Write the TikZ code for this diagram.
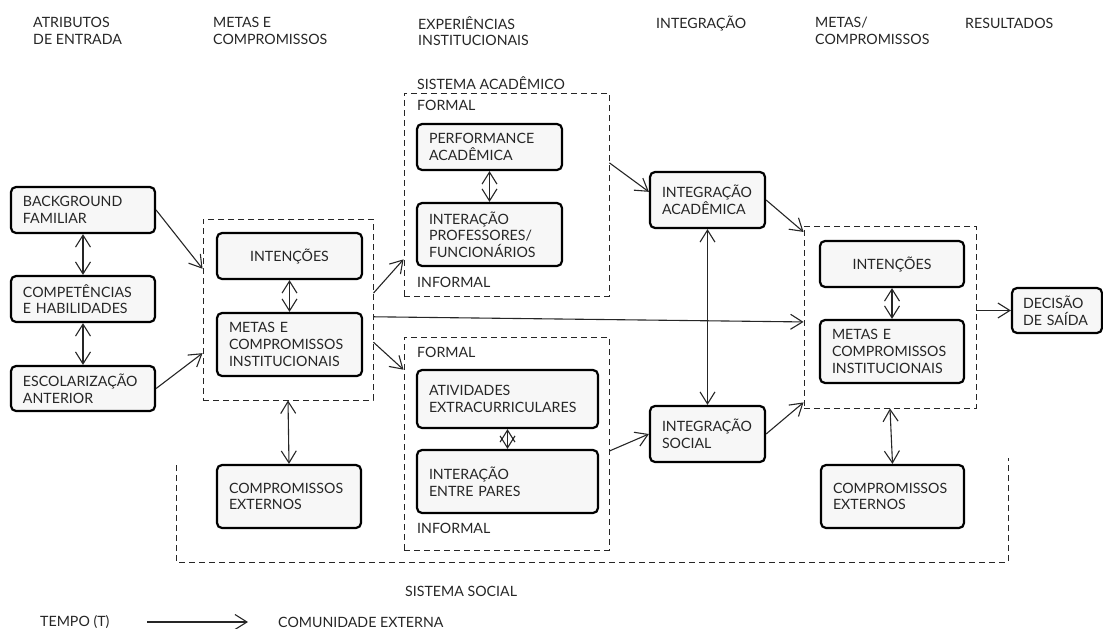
\documentclass[tikz,border=0pt]{standalone}
\usepackage{fontspec}
\setmainfont{Lato}
\usetikzlibrary{arrows.meta,calc}

\begin{document}
\begin{tikzpicture}[
    x=1pt, y=-1pt,
    font=\fontsize{14.2}{16.7}\selectfont,
    text=black!85,
    caixa/.style={rectangle, draw=black, fill=black!3, rounded corners=5pt, line width=2.2pt, align=left, inner xsep=12pt, inner ysep=0pt},
    grupo/.style={rectangle, draw=black!85, line width=0.9pt, dash pattern=on 6pt off 4pt, inner sep=0pt},
    rotulo/.style={align=left, anchor=west, inner sep=0pt},
    seta/.style={-{Straight Barb[length=12pt,width=15pt]}, line width=1.1pt, draw=black!85},
    setadupla/.style={{Straight Barb[length=12pt,width=15pt]}-{Straight Barb[length=12pt,width=15pt]}, line width=1.1pt, draw=black!85}
]
\useasboundingbox (0,0) rectangle (1103,629);

\node (h1) [rotulo] at (33,31) {ATRIBUTOS\\DE ENTRADA};
\node (h2) [rotulo] at (213,31) {METAS E\\COMPROMISSOS};
\node (h3) [rotulo] at (418,31) {EXPERIÊNCIAS\\INSTITUCIONAIS};
\node (h4) [rotulo] at (656,23) {INTEGRAÇÃO};
\node (h5) [rotulo] at (815,31) {METAS/\\COMPROMISSOS};
\node (h6) [rotulo] at (965,23) {RESULTADOS};

\node (grupo1) [grupo, minimum width=170pt, minimum height=181pt] at (288,309.5) {};
\node (acad) [grupo, minimum width=205pt, minimum height=203pt] at (506.5,194.5) {};
\node (social) [grupo, minimum width=205pt, minimum height=213pt] at (506.5,443.5) {};
\node (grupo2) [grupo, minimum width=172pt, minimum height=182pt] at (890,317) {};
\draw[grupo] (176,465) -- (176,562) -- (1008,562) -- (1008,458);

\node (lacad) [rotulo] at (417,83) {SISTEMA ACADÊMICO};
\node (formal1) [rotulo] at (417,105) {FORMAL};
\node (informal1) [rotulo] at (417,282) {INFORMAL};
\node (formal2) [rotulo] at (417,352) {FORMAL};
\node (informal2) [rotulo] at (417,528) {INFORMAL};
\node (lsocial) [rotulo] at (405,591) {SISTEMA SOCIAL};

\node (bg) [caixa, text width=120pt, minimum height=46pt] at (83,210) {BACKGROUND\\FAMILIAR};
\node (comp) [caixa, text width=120pt, minimum height=46pt] at (83,299) {COMPETÊNCIAS\\E HABILIDADES};
\node (esc) [caixa, text width=120pt, minimum height=45pt] at (83,388.5) {ESCOLARIZAÇÃO\\ANTERIOR};
\node (int1) [caixa, text width=121pt, minimum height=46pt, align=center] at (289.5,256) {INTENÇÕES};
\node (metas1) [caixa, text width=121pt, minimum height=63pt] at (289.5,344.5) {METAS E\\COMPROMISSOS\\INSTITUCIONAIS};
\node (ce1) [caixa, text width=120pt, minimum height=63pt] at (289,496.5) {COMPROMISSOS\\EXTERNOS};
\node (perf) [caixa, text width=121pt, minimum height=46pt] at (489.5,147) {PERFORMANCE\\ACADÊMICA};
\node (intprof) [caixa, text width=121pt, minimum height=63pt] at (489.5,234.5) {INTERAÇÃO\\PROFESSORES/\\FUNCIONÁRIOS};
\node (ativ) [caixa, text width=157pt, minimum height=58pt] at (507.5,399) {ATIVIDADES\\EXTRACURRICULARES};
\node (pares) [caixa, text width=157pt, minimum height=63pt] at (507.5,481.5) {INTERAÇÃO\\ENTRE PARES};
\node (ia) [caixa, text width=91pt, minimum height=56pt] at (707.5,200) {INTEGRAÇÃO\\ACADÊMICA};
\node (is) [caixa, text width=91pt, minimum height=56pt] at (707.5,434) {INTEGRAÇÃO\\SOCIAL};
\node (int2) [caixa, text width=120pt, minimum height=46pt, align=center] at (892,264) {INTENÇÕES};
\node (metas2) [caixa, text width=120pt, minimum height=63pt] at (892,351.5) {METAS E\\COMPROMISSOS\\INSTITUCIONAIS};
\node (ce2) [caixa, text width=119pt, minimum height=63pt] at (892.5,496.5) {COMPROMISSOS\\EXTERNOS};
\node (dec) [caixa, text width=68pt, minimum height=45pt, inner xsep=11pt] at (1057,310.5) {DECISÃO\\DE SAÍDA};

\node (tempo) [rotulo] at (40,622) {TEMPO (T)};
\node (comunidade) [rotulo] at (278,622) {COMUNIDADE EXTERNA};
\coordinate (t0) at (147,622);
\coordinate (t1) at (248,622);

\draw[setadupla] (bg) -- (comp);
\draw[setadupla] (comp) -- (esc);
\draw[seta] (bg.east) -- ($(grupo1.north west)!0.276!(grupo1.south west)$);
\draw[seta] (esc.east) -- ($(grupo1.north west)!0.74!(grupo1.south west)$);
\draw[setadupla] (int1) -- (metas1);
\draw[setadupla] (grupo1.south) -- (ce1.north);
\draw[seta] ($(grupo1.north east)!0.41!(grupo1.south east)$) -- ($(acad.north west)!0.818!(acad.south west)$);
\draw[seta] ($(grupo1.north east)!0.68!(grupo1.south east)$) -- ($(social.north west)!0.155!(social.south west)$);
\draw[seta] ($(grupo1.north east)!0.54!(grupo1.south east)$) -- ($(grupo2.north west)!0.527!(grupo2.south west)$);
\draw[setadupla] (perf) -- (intprof);
\draw[setadupla] (ativ) -- (pares);
\draw[seta] ($(acad.north east)!0.345!(acad.south east)$) -- ($(ia.north west)!0.36!(ia.south west)$);
\draw[seta] ($(social.north east)!0.535!(social.south east)$) -- (is.west);
\draw[setadupla] (ia) -- (is);
\draw[seta] (ia.east) -- ($(grupo2.north west)!0.035!(grupo2.south west)$);
\draw[seta] (is.east) -- ($(grupo2.north west)!0.967!(grupo2.south west)$);
\draw[setadupla] (int2) -- (metas2);
\draw[setadupla] (grupo2.south) -- (ce2.north);
\draw[seta] (dec.west -| grupo2.east) -- (dec.west);
\draw[seta] (t0) -- (t1);
\end{tikzpicture}
\end{document}
